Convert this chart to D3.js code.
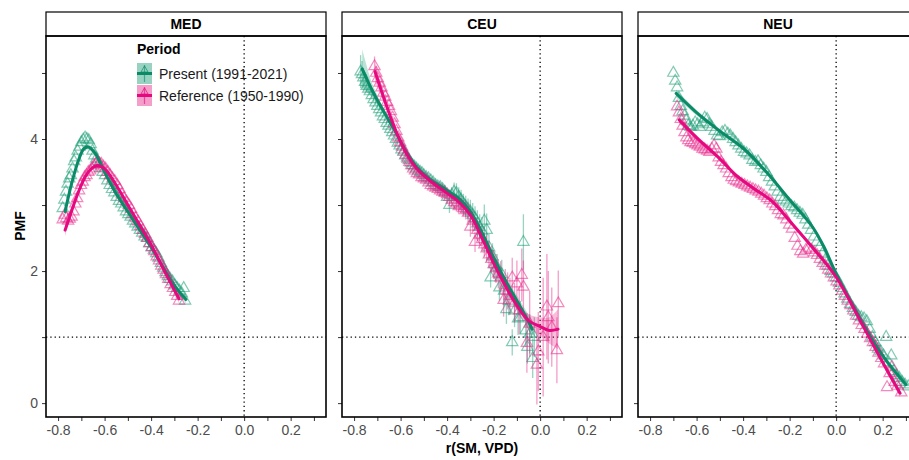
<!DOCTYPE html>
<html>
<head>
<meta charset="utf-8">
<script src="https://cdn.jsdelivr.net/npm/d3@7"></script>
<style>
  body { margin: 0; background: #fff; }
  svg { display: block; font-family: "Liberation Sans", Arial, sans-serif; }
</style>
</head>
<body>
<svg id="chart" width="909" height="460"></svg>
<script>
// Data: [r(SM,VPD), PMF, errorbar half-width]
var regions = ["MED", "CEU", "NEU"];
var periods = ["Present (1991-2021)", "Reference (1950-1990)"];
var xMajor = [-0.8, -0.6, -0.4, -0.2, 0.0, 0.2];
var xMinor = [-0.7, -0.5, -0.3, -0.1, 0.1, 0.3];
var yMajor = [0, 2, 4];
var yMinor = [1, 3, 5];

var medPresent = [[-0.780,2.95],[-0.773,3.08],[-0.766,3.2],[-0.759,3.32],[-0.752,3.4],[-0.745,3.45],[-0.738,3.55],[-0.731,3.66],[-0.724,3.72],[-0.716,3.82],[-0.708,3.88],[-0.700,3.95],[-0.692,3.99],[-0.684,4.02],[-0.676,4.0],[-0.668,3.98],[-0.660,3.92],[-0.652,3.82],[-0.644,3.75],[-0.636,3.7],[-0.627,3.62],[-0.618,3.56],[-0.608,3.5],[-0.598,3.45],[-0.588,3.37],[-0.578,3.3],[-0.568,3.24],[-0.558,3.19],[-0.548,3.12],[-0.538,3.06],[-0.528,3.02],[-0.518,2.96],[-0.508,2.9],[-0.498,2.86],[-0.488,2.82],[-0.478,2.76],[-0.468,2.72],[-0.458,2.67],[-0.448,2.62],[-0.438,2.58],[-0.428,2.52],[-0.418,2.5],[-0.408,2.42],[-0.398,2.36],[-0.388,2.32],[-0.378,2.27],[-0.368,2.2],[-0.358,2.12],[-0.348,2.05],[-0.338,1.98],[-0.328,1.92],[-0.318,1.88],[-0.308,1.84],[-0.298,1.78],[-0.288,1.74],[-0.278,1.7],[-0.268,1.66],[-0.260,1.74],[-0.254,1.55]];
var medReference = [[-0.780,2.78],[-0.772,2.85],[-0.765,2.8],[-0.757,2.76],[-0.750,2.79],[-0.742,2.82],[-0.734,2.9],[-0.726,3.02],[-0.718,3.1],[-0.710,3.22],[-0.702,3.3],[-0.694,3.35],[-0.686,3.42],[-0.678,3.45],[-0.670,3.5],[-0.662,3.52],[-0.654,3.55],[-0.646,3.6],[-0.638,3.62],[-0.630,3.66],[-0.622,3.63],[-0.614,3.62],[-0.605,3.58],[-0.596,3.55],[-0.586,3.5],[-0.576,3.45],[-0.566,3.4],[-0.556,3.36],[-0.546,3.3],[-0.536,3.24],[-0.526,3.16],[-0.516,3.1],[-0.506,3.05],[-0.496,3.0],[-0.486,2.94],[-0.476,2.86],[-0.466,2.8],[-0.456,2.75],[-0.446,2.68],[-0.436,2.62],[-0.426,2.56],[-0.416,2.5],[-0.406,2.42],[-0.396,2.36],[-0.386,2.3],[-0.376,2.22],[-0.366,2.16],[-0.356,2.08],[-0.346,2.02],[-0.336,1.95],[-0.326,1.88],[-0.316,1.8],[-0.306,1.74],[-0.296,1.68],[-0.288,1.62],[-0.280,1.55]];

var ceuPresent = [[-0.772,5.02,0.25],[-0.766,4.98,0.2],[-0.760,4.93,0.15],[-0.753,4.86,0.1],[-0.746,4.8,0.08],[-0.739,4.76,0.06],[-0.732,4.72,0.05],[-0.724,4.66,0.05],[-0.716,4.6,0.04],[-0.708,4.55,0.04],[-0.700,4.5,0.04],[-0.692,4.45,0.03],[-0.684,4.4,0.03],[-0.676,4.34,0.03],[-0.668,4.3,0.03],[-0.660,4.24,0.03],[-0.652,4.2,0.03],[-0.644,4.15,0.03],[-0.636,4.1,0.03],[-0.628,4.05,0.03],[-0.620,4.0,0.03],[-0.612,3.94,0.03],[-0.604,3.9,0.03],[-0.596,3.84,0.03],[-0.588,3.8,0.03],[-0.580,3.75,0.03],[-0.572,3.72,0.03],[-0.564,3.68,0.03],[-0.556,3.64,0.03],[-0.548,3.6,0.03],[-0.540,3.58,0.03],[-0.532,3.55,0.03],[-0.524,3.52,0.04],[-0.516,3.5,0.04],[-0.508,3.48,0.04],[-0.500,3.45,0.04],[-0.490,3.42,0.05],[-0.480,3.4,0.05],[-0.470,3.37,0.05],[-0.460,3.34,0.06],[-0.450,3.3,0.06],[-0.440,3.28,0.07],[-0.430,3.27,0.08],[-0.420,3.24,0.08],[-0.410,3.2,0.1],[-0.400,3.12,0.1],[-0.390,3.0,0.12],[-0.380,3.15,0.12],[-0.370,3.2,0.14],[-0.360,3.18,0.15],[-0.350,3.12,0.15],[-0.340,3.08,0.15],[-0.330,3.02,0.15],[-0.320,2.98,0.16],[-0.310,2.94,0.16],[-0.300,2.9,0.18],[-0.290,2.85,0.18],[-0.280,2.8,0.18],[-0.270,2.72,0.2],[-0.260,2.66,0.2],[-0.250,2.6,0.22],[-0.240,2.76,0.25],[-0.230,2.62,0.25],[-0.220,2.36,0.2],[-0.213,1.9,0.15],[-0.205,2.22,0.2],[-0.195,2.1,0.2],[-0.185,2.06,0.2],[-0.175,1.75,0.2],[-0.165,1.95,0.22],[-0.155,1.7,0.22],[-0.145,1.42,0.22],[-0.135,1.55,0.22],[-0.120,0.92,0.2],[-0.110,1.4,0.25],[-0.095,1.28,0.25],[-0.085,1.3,0.25],[-0.072,2.44,0.42],[-0.062,1.1,0.25],[-0.055,0.85,0.25],[-0.045,1.05,0.3],[-0.032,0.68,0.3],[-0.025,1.0,0.3]];
var ceuReference = [[-0.712,5.1,0.15],[-0.705,5.0,0.1],[-0.698,4.92,0.08],[-0.690,4.85,0.06],[-0.682,4.78,0.05],[-0.674,4.7,0.05],[-0.666,4.64,0.04],[-0.658,4.56,0.04],[-0.650,4.5,0.04],[-0.642,4.42,0.03],[-0.634,4.32,0.03],[-0.626,4.22,0.03],[-0.618,4.12,0.03],[-0.610,4.02,0.03],[-0.602,3.95,0.03],[-0.594,3.88,0.03],[-0.586,3.82,0.03],[-0.578,3.76,0.03],[-0.570,3.7,0.03],[-0.562,3.65,0.03],[-0.554,3.6,0.03],[-0.546,3.55,0.03],[-0.538,3.52,0.03],[-0.530,3.48,0.03],[-0.520,3.46,0.04],[-0.510,3.42,0.04],[-0.500,3.4,0.04],[-0.490,3.38,0.04],[-0.480,3.34,0.05],[-0.470,3.3,0.05],[-0.460,3.28,0.05],[-0.450,3.26,0.06],[-0.440,3.24,0.06],[-0.430,3.22,0.07],[-0.420,3.2,0.07],[-0.410,3.18,0.08],[-0.400,3.16,0.08],[-0.390,3.12,0.1],[-0.380,3.08,0.1],[-0.370,3.04,0.1],[-0.360,3.02,0.12],[-0.350,2.98,0.12],[-0.340,3.0,0.12],[-0.330,2.95,0.12],[-0.320,2.92,0.14],[-0.310,2.88,0.14],[-0.300,2.67,0.15],[-0.290,2.76,0.15],[-0.280,2.44,0.15],[-0.270,2.62,0.16],[-0.260,2.55,0.16],[-0.250,2.48,0.18],[-0.240,2.4,0.18],[-0.230,2.34,0.2],[-0.220,2.25,0.2],[-0.210,2.18,0.2],[-0.200,2.1,0.22],[-0.190,2.04,0.22],[-0.180,1.96,0.22],[-0.170,1.9,0.25],[-0.157,1.56,0.25],[-0.150,1.78,0.25],[-0.140,1.7,0.28],[-0.130,1.62,0.28],[-0.120,1.9,0.3],[-0.110,1.52,0.3],[-0.100,1.81,0.35],[-0.090,1.4,0.35],[-0.079,1.94,0.4],[-0.072,1.76,0.4],[-0.057,0.91,0.45],[-0.045,1.2,0.5],[-0.014,0.58,0.6],[-0.008,0.78,0.6],[0.013,1.0,0.9],[0.029,1.46,0.8],[0.035,1.3,0.7],[0.050,1.15,0.6],[0.072,0.8,0.5],[0.078,1.51,0.5]];

var neuPresent = [[-0.700,5.0],[-0.692,4.88],[-0.684,4.78],[-0.676,4.62],[-0.668,4.5],[-0.660,4.42],[-0.652,4.35],[-0.645,4.28],[-0.636,4.2],[-0.626,4.18],[-0.616,4.2],[-0.606,4.25],[-0.596,4.22],[-0.586,4.18],[-0.575,4.25],[-0.565,4.32],[-0.555,4.3],[-0.545,4.22],[-0.535,4.18],[-0.523,4.12],[-0.512,4.05],[-0.502,4.04],[-0.490,4.1],[-0.478,4.12],[-0.466,4.08],[-0.455,4.05],[-0.443,4.0],[-0.432,3.95],[-0.420,3.9],[-0.408,3.85],[-0.396,3.8],[-0.385,3.78],[-0.372,3.75],[-0.360,3.68],[-0.348,3.65],[-0.336,3.66],[-0.324,3.6],[-0.312,3.55],[-0.300,3.5],[-0.288,3.42],[-0.276,3.35],[-0.264,3.28],[-0.252,3.2],[-0.240,3.12],[-0.228,3.08],[-0.216,3.05],[-0.204,3.02],[-0.192,2.98],[-0.180,2.96],[-0.168,2.92],[-0.156,2.88],[-0.144,2.85],[-0.132,2.78],[-0.120,2.7],[-0.108,2.62],[-0.096,2.52],[-0.084,2.44],[-0.072,2.36],[-0.060,2.26],[-0.048,2.16],[-0.036,2.08],[-0.024,2.0],[-0.012,1.96],[0.000,1.9],[0.012,1.82],[0.024,1.74],[0.036,1.66],[0.048,1.58],[0.060,1.5],[0.072,1.44],[0.084,1.38],[0.096,1.32],[0.108,1.3],[0.120,1.28],[0.132,1.24],[0.144,1.12],[0.156,1.0],[0.168,0.92],[0.180,0.82],[0.192,0.78],[0.204,0.72],[0.215,1.0],[0.225,0.62],[0.237,0.72],[0.248,0.48],[0.260,0.42],[0.272,0.38],[0.284,0.32],[0.296,0.28],[0.310,0.25]];
var neuReference = [[-0.684,4.49],[-0.676,4.4],[-0.668,4.3],[-0.660,4.2],[-0.652,4.1],[-0.644,4.02],[-0.636,3.98],[-0.626,3.95],[-0.616,3.94],[-0.606,3.92],[-0.596,3.9],[-0.586,3.88],[-0.575,3.85],[-0.565,3.84],[-0.555,3.82],[-0.545,3.8],[-0.535,3.85],[-0.525,3.9],[-0.515,3.85],[-0.505,3.72],[-0.495,3.65],[-0.484,3.6],[-0.473,3.55],[-0.462,3.48],[-0.450,3.42],[-0.440,3.38],[-0.430,3.36],[-0.418,3.34],[-0.406,3.32],[-0.394,3.3],[-0.382,3.28],[-0.370,3.26],[-0.358,3.24],[-0.346,3.22],[-0.334,3.2],[-0.322,3.17],[-0.310,3.14],[-0.298,3.1],[-0.286,3.07],[-0.274,3.02],[-0.262,2.98],[-0.250,2.92],[-0.238,2.86],[-0.226,2.84],[-0.214,2.78],[-0.202,2.7],[-0.190,2.64],[-0.178,2.5],[-0.166,2.38],[-0.154,2.3],[-0.142,2.26],[-0.130,2.32],[-0.118,2.35],[-0.106,2.32],[-0.094,2.28],[-0.082,2.24],[-0.070,2.18],[-0.058,2.12],[-0.046,2.08],[-0.034,2.02],[-0.022,1.96],[-0.010,1.9],[0.002,1.84],[0.014,1.78],[0.026,1.7],[0.038,1.62],[0.050,1.55],[0.062,1.48],[0.074,1.4],[0.086,1.32],[0.098,1.25],[0.110,1.18],[0.122,1.12],[0.134,1.05],[0.146,0.98],[0.158,0.92],[0.170,0.85],[0.182,0.76],[0.194,0.68],[0.206,0.6],[0.219,0.24],[0.230,0.45],[0.240,0.55],[0.252,0.32],[0.264,0.26],[0.280,0.16]];

// smoothed fits: [r, PMF, se]
var medPresentFit = [[-0.77,2.9,0.08],[-0.74,3.35,0.05],[-0.71,3.7,0.04],[-0.69,3.85,0.04],[-0.67,3.88,0.04],[-0.64,3.78,0.03],[-0.6,3.5,0.03],[-0.55,3.17,0.03],[-0.5,2.9,0.03],[-0.45,2.63,0.03],[-0.4,2.36,0.03],[-0.35,2.07,0.03],[-0.3,1.78,0.04],[-0.25,1.57,0.06]];
var medReferenceFit = [[-0.77,2.62,0.1],[-0.74,2.93,0.05],[-0.71,3.22,0.04],[-0.68,3.45,0.04],[-0.65,3.57,0.03],[-0.63,3.6,0.03],[-0.6,3.55,0.03],[-0.55,3.3,0.03],[-0.5,3.0,0.03],[-0.45,2.7,0.03],[-0.4,2.4,0.03],[-0.35,2.05,0.03],[-0.31,1.78,0.04],[-0.28,1.58,0.07]];
var ceuPresentFit = [[-0.765,5.06,0.3],[-0.72,4.72,0.1],[-0.67,4.4,0.05],[-0.62,4.1,0.04],[-0.57,3.77,0.03],[-0.53,3.57,0.03],[-0.47,3.38,0.03],[-0.4,3.22,0.04],[-0.35,3.1,0.04],[-0.3,2.9,0.04],[-0.25,2.58,0.05],[-0.2,2.2,0.05],[-0.15,1.86,0.06],[-0.1,1.55,0.08],[-0.06,1.3,0.1],[-0.034,1.12,0.14]];
var ceuReferenceFit = [[-0.71,5.02,0.15],[-0.67,4.6,0.06],[-0.62,4.12,0.04],[-0.57,3.75,0.03],[-0.53,3.55,0.03],[-0.47,3.36,0.03],[-0.4,3.18,0.04],[-0.35,3.05,0.04],[-0.3,2.85,0.04],[-0.25,2.5,0.05],[-0.2,2.12,0.05],[-0.15,1.78,0.06],[-0.1,1.48,0.08],[-0.05,1.25,0.1],[0.0,1.16,0.14],[0.04,1.1,0.2],[0.077,1.12,0.3]];
var neuPresentFit = [[-0.688,4.69,0.06],[-0.6,4.4,0.04],[-0.5,4.12,0.03],[-0.4,3.86,0.03],[-0.3,3.5,0.03],[-0.2,3.08,0.03],[-0.1,2.66,0.03],[-0.05,2.35,0.03],[0.0,1.96,0.03],[0.1,1.3,0.03],[0.2,0.72,0.04],[0.3,0.28,0.06]];
var neuReferenceFit = [[-0.675,4.29,0.06],[-0.6,4.02,0.04],[-0.5,3.7,0.03],[-0.43,3.45,0.03],[-0.35,3.24,0.03],[-0.28,3.07,0.03],[-0.2,2.76,0.03],[-0.1,2.35,0.03],[0.0,1.91,0.03],[0.1,1.27,0.03],[0.2,0.62,0.04],[0.275,0.15,0.06]];

var panelPoints = [[medPresent, medReference], [ceuPresent, ceuReference], [neuPresent, neuReference]];
var panelFits = [[medPresentFit, medReferenceFit], [ceuPresentFit, ceuReferenceFit], [neuPresentFit, neuReferenceFit]];

var lineCol = ["#0b8a68", "#e5087f"];
var ptCol = ["#1b9e77", "#e7298a"];

// layout
var panelLeft = [46, 342, 638],
    panelTop = 36,
    panelW = 280,
    panelH = 381;

var svg = d3.select("#chart");

var x = d3.scaleLinear().domain([-0.852, 0.352]).range([0, panelW]);
var y = d3.scaleLinear().domain([-0.21, 5.56]).range([panelH, 0]);

var line = d3.line()
    .x(function(d) { return x(d[0]); })
    .y(function(d) { return y(d[1]); })
    .curve(d3.curveCatmullRom);
var band = d3.area()
    .x(function(d) { return x(d[0]); })
    .y0(function(d) { return y(d[1] - d[2]); })
    .y1(function(d) { return y(d[1] + d[2]); })
    .curve(d3.curveCatmullRom);
var tri = d3.symbol(d3.symbolTriangle, 56);

regions.forEach(function(name, i) {
  var left = panelLeft[i];

  // strip
  svg.append("rect")
    .attr("x", left).attr("y", 12)
    .attr("width", panelW).attr("height", panelTop - 12)
    .attr("fill", "#fff").attr("stroke", "#000").attr("stroke-width", 1.2);
  svg.append("text")
    .attr("x", left + panelW / 2).attr("y", 29)
    .attr("text-anchor", "middle")
    .attr("font-weight", "bold").attr("font-size", "14px")
    .text(name);

  var g = svg.append("g")
    .attr("transform", "translate(" + left + "," + panelTop + ")");

  g.append("clipPath").attr("id", "clip" + i)
    .append("rect").attr("width", panelW).attr("height", panelH);

  // axes
  var xa = g.append("g")
    .attr("transform", "translate(0," + panelH + ")")
    .call(d3.axisBottom(x)
      .tickValues(xMajor.concat(xMinor))
      .tickSize(4).tickPadding(4)
      .tickFormat(function(d) { return xMajor.indexOf(d) >= 0 ? d.toFixed(1) : ""; }));
  var ya = g.append("g")
    .call(d3.axisLeft(y)
      .tickValues(yMajor.concat(yMinor))
      .tickSize(4).tickPadding(4)
      .tickFormat(function(d) { return (i == 0 && yMajor.indexOf(d) >= 0) ? d : ""; }));
  [xa, ya].forEach(function(a) {
    a.select(".domain").remove();
    a.selectAll(".tick line").attr("stroke", "#333").attr("stroke-width", 1);
    a.selectAll("text").attr("fill", "#4d4d4d").attr("font-size", "14px")
      .attr("font-family", "Liberation Sans, Arial, sans-serif");
  });

  var plot = g.append("g").attr("clip-path", "url(#clip" + i + ")");

  // reference lines
  plot.append("line")
    .attr("x1", x(0)).attr("x2", x(0)).attr("y1", 0).attr("y2", panelH)
    .attr("stroke", "#000").attr("stroke-width", 1.3).attr("stroke-dasharray", "1.3,3");
  plot.append("line")
    .attr("x1", 0).attr("x2", panelW).attr("y1", y(1)).attr("y2", y(1))
    .attr("stroke", "#000").attr("stroke-width", 1.3).attr("stroke-dasharray", "1.3,3");

  [0, 1].forEach(function(k) {
    var pts = panelPoints[i][k];
    var fit = panelFits[i][k];

    plot.append("path").datum(fit)
      .attr("d", band)
      .attr("fill", ptCol[k]).attr("fill-opacity", 0.3);

    plot.selectAll(".eb" + k)
      .data(pts.filter(function(d) { return d[2]; }))
      .join("line")
        .attr("x1", function(d) { return x(d[0]); })
        .attr("x2", function(d) { return x(d[0]); })
        .attr("y1", function(d) { return y(d[1] - d[2]); })
        .attr("y2", function(d) { return y(d[1] + d[2]); })
        .attr("stroke", ptCol[k]).attr("stroke-opacity", 0.45).attr("stroke-width", 1.3);

    plot.selectAll(".pt" + k)
      .data(pts)
      .join("path")
        .attr("d", tri)
        .attr("transform", function(d) { return "translate(" + x(d[0]) + "," + y(d[1]) + ")"; })
        .attr("fill", "none")
        .attr("stroke", ptCol[k]).attr("stroke-opacity", 0.55).attr("stroke-width", 1.2);
  });

  [0, 1].forEach(function(k) {
    plot.append("path").datum(panelFits[i][k])
      .attr("d", line)
      .attr("fill", "none")
      .attr("stroke", lineCol[k]).attr("stroke-width", 3)
      .attr("stroke-linecap", "round");
  });

  // panel border
  g.append("rect")
    .attr("width", panelW).attr("height", panelH)
    .attr("fill", "none").attr("stroke", "#000").attr("stroke-width", 1.6);
});

// axis titles
svg.append("text")
  .attr("x", 482).attr("y", 453)
  .attr("text-anchor", "middle")
  .attr("font-weight", "bold").attr("font-size", "14px")
  .text("r(SM, VPD)");
svg.append("text")
  .attr("transform", "translate(25,226) rotate(-90)")
  .attr("text-anchor", "middle")
  .attr("font-weight", "bold").attr("font-size", "14px")
  .text("PMF");

// legend
var legend = svg.append("g");
legend.append("text")
  .attr("x", 137).attr("y", 54)
  .attr("font-weight", "bold").attr("font-size", "14px")
  .text("Period");
periods.forEach(function(p, k) {
  var ky = 63 + k * 22;
  legend.append("rect")
    .attr("x", 137).attr("y", ky).attr("width", 15).attr("height", 21)
    .attr("fill", ptCol[k]).attr("fill-opacity", 0.45);
  legend.append("line")
    .attr("x1", 144.5).attr("x2", 144.5).attr("y1", ky + 2).attr("y2", ky + 19)
    .attr("stroke", lineCol[k]).attr("stroke-opacity", 0.6).attr("stroke-width", 1.2);
  legend.append("path")
    .attr("d", d3.symbol(d3.symbolTriangle, 22)())
    .attr("transform", "translate(144.5," + (ky + 7) + ")")
    .attr("fill", "none").attr("stroke", lineCol[k]).attr("stroke-opacity", 0.7);
  legend.append("line")
    .attr("x1", 137).attr("x2", 152).attr("y1", ky + 10.5).attr("y2", ky + 10.5)
    .attr("stroke", lineCol[k]).attr("stroke-width", 3);
  legend.append("text")
    .attr("x", 159).attr("y", ky + 16)
    .attr("font-size", "14px").attr("fill", "#1a1a1a")
    .text(p);
});
</script>
</body>
</html>
